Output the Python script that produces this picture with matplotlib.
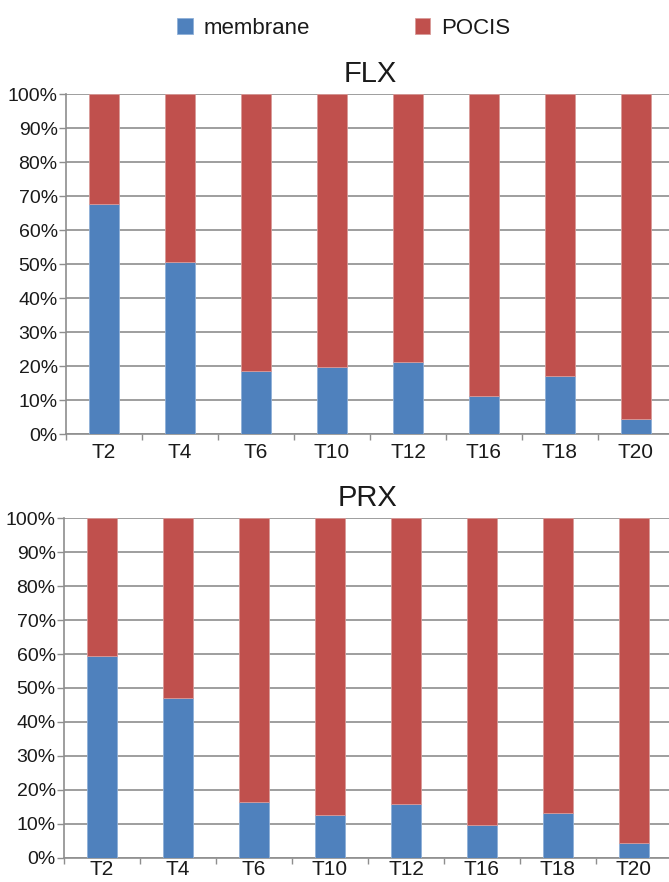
import numpy as np
import matplotlib.pyplot as plt
from matplotlib.ticker import PercentFormatter, FixedLocator

plt.rcParams['font.family'] = ['Liberation Sans', 'DejaVu Sans']

# data (membrane share in %, POCIS is the rest)
categories = ['T2', 'T4', 'T6', 'T10', 'T12', 'T16', 'T18', 'T20']
flx_membrane = [67.6, 50.8, 18.6, 19.9, 21.3, 11.3, 17.2, 4.6]
prx_membrane = [59.4, 47.0, 16.3, 12.7, 15.8, 9.5, 13.1, 4.2]
series_names = ['membrane', 'POCIS']
panel_titles = ['FLX', 'PRX']

blue = '#4F81BD'
red = '#C0504D'
grid_col = '#8e8e8e'
text_col = '#1a1a1a'

fig = plt.figure(figsize=(6.69, 8.82), dpi=100)
W, H = 669, 882

# axes boxes in pixels: left, top, right, bottom
boxes = [(66, 94.3, 674, 434.3), (64, 518.3, 672, 857.7)]
label_pads = [6, 1.5]  # bottom panel labels sit tight against the image edge

x = np.arange(len(categories))
for (l, t, r, b), title, memb, lpad in zip(boxes, panel_titles,
                                           [flx_membrane, prx_membrane], label_pads):
    ax = fig.add_axes([l / W, 1 - b / H, (r - l) / W, (b - t) / H])
    memb = np.array(memb)
    pocis = 100 - memb
    ax.bar(x, memb, width=0.39, color=blue, edgecolor='#8fb0d8', linewidth=0.6,
           label=series_names[0], zorder=3)
    ax.bar(x, pocis, bottom=memb, width=0.39, color=red, edgecolor='#d99a98',
           linewidth=0.6, label=series_names[1], zorder=3)
    ax.set_xlim(-0.5, len(categories) - 0.5)
    ax.set_ylim(0, 100)
    ax.set_yticks(np.arange(0, 101, 10))
    ax.yaxis.set_major_formatter(PercentFormatter(decimals=0))
    ax.grid(axis='y', color=grid_col, linewidth=1.2, zorder=0)
    ax.set_xticks(x)
    ax.set_xticklabels(categories)
    ax.xaxis.set_minor_locator(FixedLocator(np.arange(-0.5, len(categories), 1)))
    ax.tick_params(axis='x', which='major', length=0, pad=lpad, labelsize=15, colors=text_col)
    ax.tick_params(axis='x', which='minor', length=4, width=1, color=grid_col)
    ax.tick_params(axis='y', length=5, width=1, color=grid_col, pad=1, labelsize=14,
                   labelcolor=text_col)
    for s in ['top', 'right']:
        ax.spines[s].set_visible(False)
    for s in ['left', 'bottom']:
        ax.spines[s].set_color(grid_col)
        ax.spines[s].set_linewidth(1.2)
    ax.set_title(title, fontsize=21, pad=9, color=text_col)

handles, labels = ax.get_legend_handles_labels()
leg = fig.legend(handles, labels, loc='center', bbox_to_anchor=(344 / W, 1 - 28 / H), ncol=2,
                 frameon=False, fontsize=16, handlelength=0.7, handleheight=0.7,
                 handletextpad=0.5, columnspacing=4.7)
for txt in leg.get_texts():
    txt.set_color(text_col)

fig.savefig('out.png', dpi=100)
